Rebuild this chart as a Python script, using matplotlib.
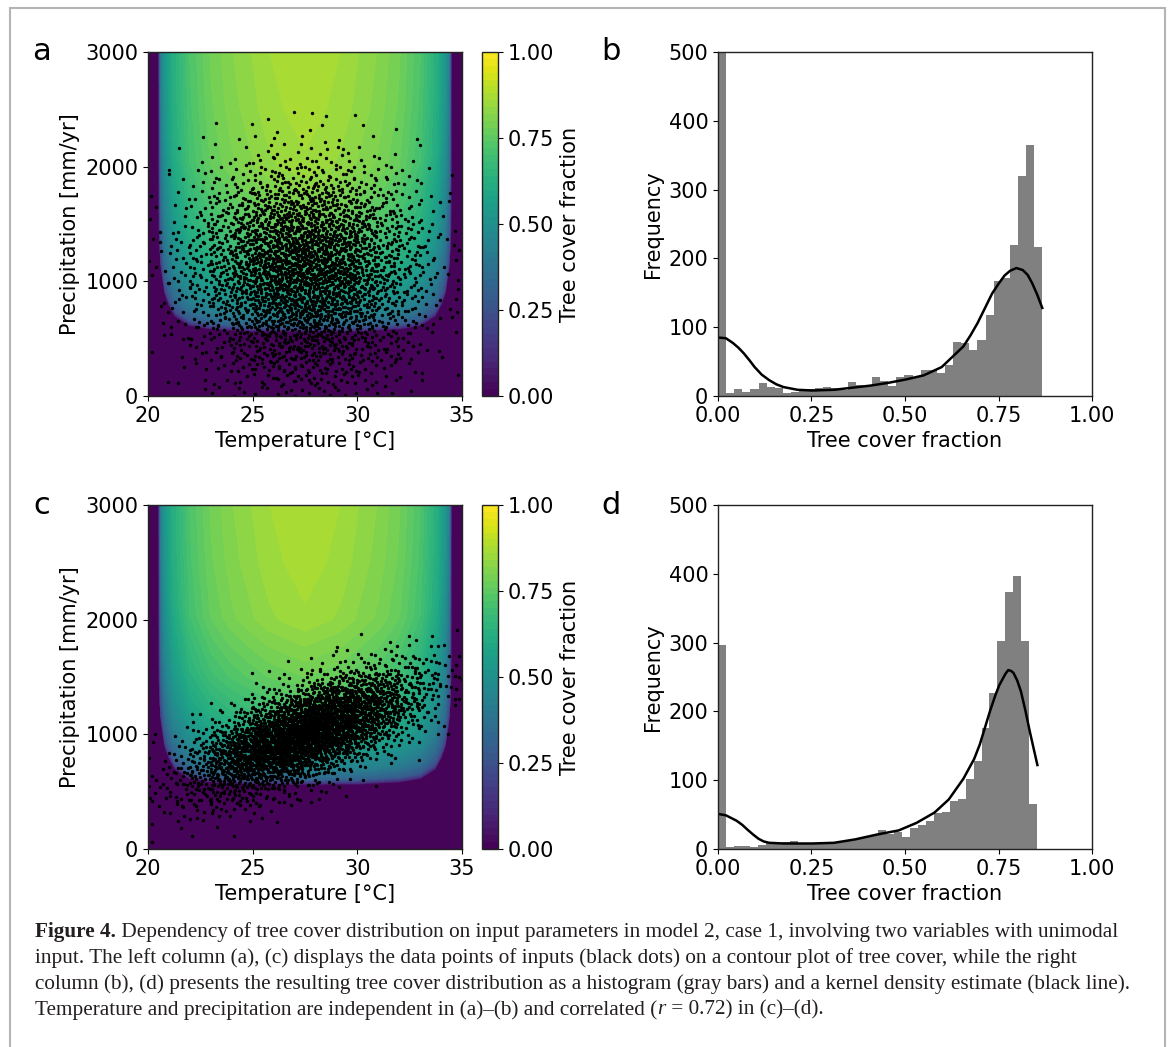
import numpy as np
import matplotlib
matplotlib.use("Agg")
import matplotlib.pyplot as plt
from matplotlib.patches import Rectangle

plt.rcParams['font.family'] = 'DejaVu Sans'
plt.rcParams['font.size'] = 15
plt.rcParams['axes.linewidth'] = 1.0
plt.rcParams['axes.edgecolor'] = '#222222'

W, H = 1173, 1047

# tree cover model shown as contour
# relative tree cover along temperature at the top edge
temp_nodes = [20.0, 20.5, 20.6, 20.8, 21.2, 22.0, 23.0, 24.0, 25.8, 27.5, 29.2, 31.0, 32.0, 33.0, 33.8, 34.2, 34.4, 34.5, 35.0]
temp_factor = [0, 0, 0.47, 0.60, 0.71, 0.82, 0.89, 0.93, 0.977, 1.0, 0.977, 0.93, 0.89, 0.82, 0.71, 0.60, 0.47, 0, 0]
# tree cover along precipitation in the middle (27.5 C)
precip_nodes = [0, 560, 575, 610, 700, 850, 1000, 1200, 1500, 2000, 2500, 3000]
precip_cover = [0, 0, 0.15, 0.33, 0.46, 0.57, 0.64, 0.71, 0.78, 0.855, 0.872, 0.88]
# lower edge of the forest region (U shape)
edge_temp = [20.5, 20.6, 20.8, 21.0, 21.3, 22.0, 23.0, 25.0, 27.5, 30.0, 32.0, 33.0, 33.7, 34.0, 34.2, 34.4, 34.5]
edge_precip = [1500, 1150, 900, 800, 700, 620, 590, 572, 570, 572, 590, 620, 700, 800, 900, 1150, 1500]

# input points: counts per 1 C bin and per 100 mm bin (around a ridge line)
temp_edges = list(range(20, 36))
temp_counts = [20, 45, 90, 160, 245, 330, 390, 415, 390, 330, 245, 160, 90, 45, 20]
precip_edges_a = list(range(0, 2700, 100))
precip_counts_a = [30, 43, 60, 81, 105, 130, 157, 182, 203, 219, 227, 227, 219,
                   203, 182, 157, 130, 105, 70, 50, 30, 18, 10, 6, 3, 2]
ridge_temp_a = [20, 35]
ridge_precip_a = [0, 0]
resid_edges_c = list(range(-700, 800, 100))
resid_counts_c = [6, 20, 58, 140, 270, 420, 530, 530, 420, 270, 140, 58, 20, 6]
ridge_temp_c = [20, 35]
ridge_precip_c = [520, 1500]

# histograms of tree cover (40 bins from 0 to max)
hist_max_b = 0.867
hist_counts_b = [615, 4, 10, 6, 10, 19, 13, 12, 4, 6, 10, 10, 12, 13, 12, 9, 20, 16, 14, 28,
                 22, 14, 27, 30, 27, 38, 38, 33, 45, 78, 77, 67, 82, 118, 167, 172, 220, 320, 365, 217]
hist_max_d = 0.854
hist_counts_d = [296, 3, 4, 4, 3, 6, 8, 9, 10, 11, 8, 7, 8, 9, 8, 10, 12, 14, 17, 20,
                 28, 22, 24, 18, 30, 35, 40, 52, 54, 70, 73, 102, 128, 176, 227, 302, 374, 397, 302, 65]

# kernel density estimate (scaled to counts)
kde_x_b = [0.000, 0.021, 0.040, 0.055, 0.069, 0.084, 0.098, 0.117, 0.137, 0.156, 0.175, 0.213, 0.252,
           0.310, 0.406, 0.454, 0.502, 0.550, 0.598, 0.627, 0.656, 0.675, 0.694, 0.714, 0.733, 0.750,
           0.766, 0.781, 0.798, 0.815, 0.828, 0.840, 0.853, 0.867]
kde_y_b = [85, 84, 77, 70, 62, 52, 42, 31, 23, 17, 13, 9, 8,
           9, 15, 19, 24, 30, 42, 57, 72, 88, 106, 128, 149, 163,
           175, 182, 186, 183, 176, 164, 148, 128]
kde_x_d = [0, 0.021, 0.05, 0.065, 0.079, 0.094, 0.108, 0.122, 0.137, 0.175, 0.252, 0.31, 0.367, 0.425,
           0.483, 0.531, 0.579, 0.617, 0.656, 0.685, 0.70, 0.713, 0.727, 0.742, 0.752, 0.762, 0.769,
           0.776, 0.783, 0.79, 0.80, 0.81, 0.822, 0.834, 0.844, 0.854]
kde_y_d = [51, 49, 41, 35, 28, 21, 15, 11, 9, 8, 8, 9, 14, 21,
           27, 38, 53, 72, 102, 131, 152, 175, 200, 224, 238, 248, 255,
           260, 259, 256, 245, 229, 201, 170, 146, 122]

caption_lines = [
    " Dependency of tree cover distribution on input parameters in model 2, case 1, involving two variables with unimodal",
    "input. The left column (a), (c) displays the data points of inputs (black dots) on a contour plot of tree cover, while the right",
    "column (b), (d) presents the resulting tree cover distribution as a histogram (gray bars) and a kernel density estimate (black line).",
    "Temperature and precipitation are independent in (a)\u2013(b) and correlated (",
]


def px_axes(fig, left, top, right, bottom):
    return fig.add_axes([left / W, 1 - bottom / H, (right - left) / W, (bottom - top) / H])


def halton(idx, base):
    idx = np.asarray(idx, dtype=np.int64).copy()
    out = np.zeros(len(idx))
    f = 1.0
    while np.any(idx > 0):
        f /= base
        out += f * (idx % base)
        idx //= base
    return out


def cloud(t_counts, p_edges, p_counts, ridge_t, ridge_p):
    # spread each cell's points evenly over the cell (Halton sequence)
    p_counts = np.asarray(p_counts, float)
    n = p_counts.sum()
    xs, ys = [], []
    k = 37
    for i, tc in enumerate(t_counts):
        cum = np.rint(np.concatenate([[0], np.cumsum(tc * p_counts / n)]))
        share = np.diff(cum).astype(int)
        for j, m in enumerate(share):
            idx = np.arange(k, k + m)
            k += m + 7
            u = halton(idx, 2)
            v = halton(idx, 3)
            if (i + j) % 2:
                u, v = v, u
            if (i * 3 + j) % 4 >= 2:
                u = 1 - u
            t = temp_edges[i] + u * (temp_edges[i + 1] - temp_edges[i])
            p = p_edges[j] + v * (p_edges[j + 1] - p_edges[j]) + np.interp(t, ridge_t, ridge_p)
            xs.append(t)
            ys.append(p)
    return np.concatenate(xs), np.concatenate(ys)


fig = plt.figure(figsize=(W / 100, H / 100), dpi=100)

tt = np.linspace(20, 35, 601)
pp = np.linspace(0, 3000, 601)
TT, PP = np.meshgrid(tt, pp)
shift = np.interp(TT, edge_temp, edge_precip) - min(edge_precip)
ZZ = np.interp(TT, temp_nodes, temp_factor) * np.interp(PP - shift, precip_nodes, precip_cover)
levels = np.linspace(0, 1, 51)

rows = [
    (52, 396, 'a', 'b', (precip_edges_a, precip_counts_a, ridge_temp_a, ridge_precip_a),
     hist_max_b, hist_counts_b, kde_x_b, kde_y_b),
    (505, 849, 'c', 'd', (resid_edges_c, resid_counts_c, ridge_temp_c, ridge_precip_c),
     hist_max_d, hist_counts_d, kde_x_d, kde_y_d),
]

for top, bottom, lab1, lab2, pts, hmax, hcounts, kx, ky in rows:
    ax = px_axes(fig, 148, top, 462, bottom)
    cf = ax.contourf(TT, PP, ZZ, levels=levels, cmap='viridis')
    x, y = cloud(temp_counts, *pts)
    ax.scatter(x, y, s=6, c='black', linewidths=0)
    ax.set_xlim(20, 35)
    ax.set_ylim(0, 3000)
    ax.set_xticks([20, 25, 30, 35])
    ax.set_yticks([0, 1000, 2000, 3000])
    ax.set_xlabel('Temperature [\u00b0C]')
    ax.set_ylabel('Precipitation [mm/yr]')

    cax = px_axes(fig, 482, top, 498, bottom)
    cb = fig.colorbar(cf, cax=cax, ticks=[0, 0.25, 0.5, 0.75, 1.0])
    cb.ax.yaxis.set_major_formatter('{x:.2f}')
    cb.set_label('Tree cover fraction')

    hx = px_axes(fig, 718, top, 1092, bottom)
    edges = np.linspace(0, hmax, len(hcounts) + 1)
    hx.bar(edges[:-1], hcounts, width=np.diff(edges), align='edge', color='gray', linewidth=0)
    hx.plot(kx, ky, color='black', lw=1.8)
    hx.set_xlim(0, 1)
    hx.set_ylim(0, 500)
    hx.set_xticks([0, 0.25, 0.5, 0.75, 1.0])
    hx.xaxis.set_major_formatter('{x:.2f}')
    hx.set_yticks([0, 100, 200, 300, 400, 500])
    hx.set_xlabel('Tree cover fraction')
    hx.set_ylabel('Frequency')

    fig.text(42 / W, 1 - top / H, lab1, fontsize=22, ha='center', va='center')
    fig.text(611 / W, 1 - top / H, lab2, fontsize=22, ha='center', va='center')

# caption
renderer = fig.canvas.get_renderer()
cap_kw = dict(fontfamily='Liberation Serif', fontsize=15.3, va='center', color='#231f20')
cap_x = 35
cap_y = [932, 958, 984, 1010]

t = fig.text(cap_x / W, 1 - cap_y[0] / H, 'Figure 4.', fontweight='bold', **cap_kw)
x1 = t.get_window_extent(renderer).x1
fig.text(x1 / W, 1 - cap_y[0] / H, caption_lines[0], **cap_kw)
fig.text(cap_x / W, 1 - cap_y[1] / H, caption_lines[1], **cap_kw)
fig.text(cap_x / W, 1 - cap_y[2] / H, caption_lines[2], **cap_kw)
t = fig.text(cap_x / W, 1 - cap_y[3] / H, caption_lines[3], **cap_kw)
x1 = t.get_window_extent(renderer).x1
t = fig.text(x1 / W, 1 - cap_y[3] / H, 'r', fontstyle='italic', **cap_kw)
x1 = t.get_window_extent(renderer).x1
fig.text(x1 / W, 1 - cap_y[3] / H, ' = 0.72) in (c)\u2013(d).', **cap_kw)

# page frame
fig.patches.append(Rectangle((10 / W, -0.02), (1165 - 10) / W, 1.02 - 8 / H,
                             transform=fig.transFigure, fill=False,
                             edgecolor='#b4b4b4', linewidth=1.5))

fig.savefig('out.png', dpi=100)
